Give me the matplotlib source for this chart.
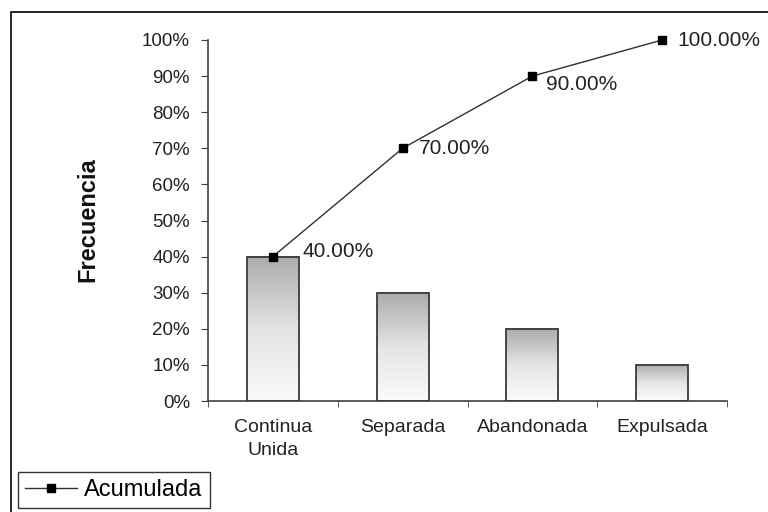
import numpy as np
import matplotlib
matplotlib.use("Agg")
import matplotlib.pyplot as plt
from matplotlib.patches import Rectangle
from matplotlib.colors import LinearSegmentedColormap
from matplotlib.ticker import FuncFormatter, MultipleLocator

plt.rcParams['font.family'] = ['Liberation Sans', 'DejaVu Sans']

# --- data ---
categories = ["Continua\nUnida", "Separada", "Abandonada", "Expulsada"]
frecuencia = [40, 30, 20, 10]
acumulada = [40, 70, 90, 100]
acum_labels = ["40.00%", "70.00%", "90.00%", "100.00%"]

fig = plt.figure(figsize=(7.68, 5.12), dpi=100)
ax = fig.add_axes([208 / 768, 1 - 401 / 512, 519 / 768, 361 / 512])

# outer frame of the chart area
fig.patches.append(Rectangle((11 / 768, -0.05), 1.1, 1 - 12 / 512 + 0.05,
                             transform=fig.transFigure, fill=False,
                             edgecolor='black', linewidth=1.2))

# gradient bars (grey at the top fading to white)
bar_cmap = LinearSegmentedColormap.from_list('bar', ['#fbfbfb', '#e4e4e4', '#ababab'])
x = np.arange(len(categories))
width = 0.40
grad = np.linspace(0, 1, 256).reshape(-1, 1)
for xi, h in zip(x, frecuencia):
    ax.imshow(grad, extent=(xi - width / 2, xi + width / 2, 0, h),
              origin='lower', cmap=bar_cmap, aspect='auto', zorder=2)
    ax.add_patch(Rectangle((xi - width / 2, 0), width, h, fill=False,
                           edgecolor='#3a3a3a', linewidth=1.3, zorder=3))

line, = ax.plot(x, acumulada, color='#303030', linewidth=1, marker='s',
                markersize=6, markerfacecolor='black', markeredgecolor='black',
                zorder=4, label='Acumulada', clip_on=False)

offsets = [(21, 4), (12, 0), (10, -6), (11, 0)]
for xi, yi, txt, off in zip(x, acumulada, acum_labels, offsets):
    ax.annotate(txt, (xi, yi), xytext=off, textcoords='offset points',
                ha='left', va='center', fontsize=15, color='#222222')

ax.set_xlim(-0.5, len(categories) - 0.5)
ax.set_ylim(0, 100)
ax.yaxis.set_major_locator(MultipleLocator(10))
ax.yaxis.set_major_formatter(FuncFormatter(lambda v, p: f"{v:.0f}%"))
ax.set_xticks(x)
ax.set_xticklabels(categories, fontsize=14, color='#222222', linespacing=1.45)
ax.set_xticks(np.arange(-0.5, len(categories), 1), minor=True)
ax.tick_params(axis='x', which='major', length=0, pad=13)
ax.tick_params(axis='x', which='minor', length=4, color='#404040')
ax.tick_params(axis='y', length=5, color='#404040', labelsize=13.5,
               labelcolor='#222222', pad=8)
for s in ['top', 'right']:
    ax.spines[s].set_visible(False)
for s in ['left', 'bottom']:
    ax.spines[s].set_color('#404040')
    ax.spines[s].set_linewidth(1.2)

fig.text(88 / 768, 1 - 220 / 512, "Frecuencia", rotation=90, ha='center',
         va='center', fontsize=17, fontweight='bold', color='#111111')

fig.legend(handles=[line], loc='lower left', bbox_to_anchor=(18 / 768, 4 / 512),
           fontsize=17, frameon=True, fancybox=False, edgecolor='black',
           handlelength=2.2, borderpad=0.3, handletextpad=0.3, borderaxespad=0)

fig.savefig("out.png", dpi=100)
